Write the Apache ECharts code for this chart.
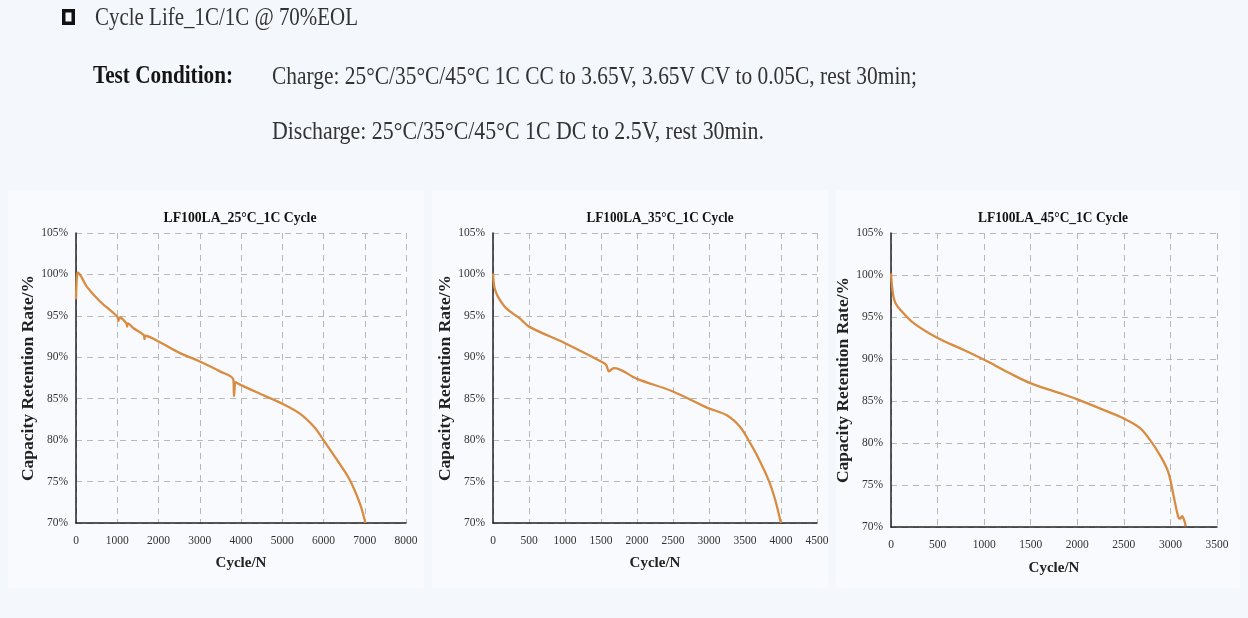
<!DOCTYPE html>
<html><head><meta charset="utf-8">
<script src="https://cdn.jsdelivr.net/npm/echarts@6/dist/echarts.min.js"></script>
<style>html,body{margin:0;padding:0;background:#f4f7fb}#c{width:1248px;height:618px}</style>
</head><body><div id="c"></div>
<script>
// ---- data ----
const heading = "Cycle Life_1C/1C @ 70%EOL";
const condLabel = "Test Condition:";
const chargeText = "Charge: 25°C/35°C/45°C 1C CC to 3.65V, 3.65V CV to 0.05C, rest 30min;";
const dischargeText = "Discharge: 25°C/35°C/45°C 1C DC to 2.5V, rest 30min.";
const chartTitles = ["LF100LA_25°C_1C Cycle", "LF100LA_35°C_1C Cycle", "LF100LA_45°C_1C Cycle"];
const yName = "Capacity Retention Rate/%";
const xName = "Cycle/N";

const cycles25 = [0, 20, 45, 120, 266, 590, 1000, 1030, 1060, 1220, 1240, 1260, 1395, 1640, 1660, 1680, 2000, 2524, 3000, 3492, 3815, 3830, 3845, 3860, 3975, 4460, 5000, 5427, 5790, 6000, 6315, 6637, 6879, 7016];
const rate25   = [97.0, 99.6, 100.2, 99.8, 98.5, 96.7, 94.9, 94.4, 94.8, 94.1, 93.7, 94.1, 93.5, 92.7, 92.2, 92.6, 91.9, 90.5, 89.5, 88.3, 87.3, 85.3, 86.2, 87.0, 86.7, 85.6, 84.4, 83.2, 81.5, 80.0, 77.7, 75.2, 72.4, 70.0];

const cycles35 = [0, 10, 23, 70, 186, 371, 500, 1000, 1500, 1570, 1610, 1640, 1680, 2000, 2490, 2978, 3247, 3433, 3548, 3664, 3826, 3919, 3998];
const rate35   = [100.1, 99.0, 98.3, 97.3, 95.9, 94.7, 93.7, 91.7, 89.5, 89.1, 88.3, 88.5, 88.7, 87.4, 85.9, 83.9, 83.0, 81.6, 80.0, 78.2, 75.2, 72.8, 70.0];

const cycles45 = [0, 10, 25, 50, 97, 240, 500, 776, 1001, 1276, 1502, 1848, 2002, 2313, 2503, 2671, 2778, 2885, 2975, 3029, 3082, 3105, 3125, 3145, 3164];
const rate45   = [100.2, 98.8, 97.5, 96.6, 95.9, 94.3, 92.5, 91.1, 89.9, 88.3, 87.1, 85.8, 85.2, 83.8, 82.9, 81.8, 80.4, 78.6, 76.6, 74.0, 71.3, 71.0, 71.3, 70.9, 70.1];

const xMax = [8000, 4500, 3500];
const xStep = [1000, 500, 500];
const yMin = 70, yMax = 105, yStep = 5;

// ---- layout ----
const grids = [
  {left: 76, top: 233, width: 330, height: 290},
  {left: 493, top: 233, width: 324, height: 290},
  {left: 891, top: 233, width: 326, height: 294}
];
const titleCenters = [240, 660, 1053];
const titleWidths = [153, 147, 150];
const xNameGap = [40, 40, 41];

const ctx = document.createElement('canvas').getContext('2d');
function fit(text, size, weight, w) {
  ctx.font = weight + ' ' + size + 'px "Liberation Serif"';
  return w / ctx.measureText(text).width;
}
function txt(text, x, y, size, weight, color, w) {
  return {
    type: 'text', x: x, y: y, scaleX: fit(text, size, weight, w), z: 10,
    style: {text: text, fontSize: size, fontWeight: weight, fontFamily: 'Liberation Serif',
      fill: color, align: 'left', verticalAlign: 'middle', textAlign: 'left', textVerticalAlign: 'middle'}
  };
}

const series = [[cycles25, rate25], [cycles35, rate35], [cycles45, rate45]];

const graphic = [
  {type: 'rect', shape: {x: 8, y: 190, width: 416, height: 398}, style: {fill: '#f8fafd'}, z: 0},
  {type: 'rect', shape: {x: 432, y: 190, width: 396, height: 398}, style: {fill: '#f8fafd'}, z: 0},
  {type: 'rect', shape: {x: 836, y: 190, width: 404, height: 398}, style: {fill: '#f8fafd'}, z: 0},
  {type: 'rect', shape: {x: 63.75, y: 10.75, width: 9.5, height: 12.5}, style: {fill: 'none', stroke: '#111', lineWidth: 3.5}, z: 10},
  txt(heading, 95, 18, 25, 'normal', '#333', 263),
  txt(condLabel, 93, 77, 25, 'bold', '#151515', 140),
  txt(chargeText, 272, 77, 25, 'normal', '#333', 645),
  txt(dischargeText, 272, 132, 25, 'normal', '#333', 492)
];
chartTitles.forEach((t, i) => {
  graphic.push(txt(t, titleCenters[i] - titleWidths[i] / 2, 218, 15, 'bold', '#111', titleWidths[i]));
});

const option = {
  backgroundColor: '#f4f7fb',
  animation: false,
  graphic: graphic,
  grid: grids.map(g => Object.assign({show: true, backgroundColor: '#f9fbfe', borderColor: '#222', borderWidth: 1.5, containLabel: false}, g)),
  xAxis: grids.map((g, i) => ({
    gridIndex: i, type: 'value', min: 0, max: xMax[i], interval: xStep[i],
    name: xName, nameLocation: 'middle', nameGap: xNameGap[i],
    nameTextStyle: {fontFamily: 'Liberation Serif', fontWeight: 'bold', fontSize: 15, color: '#222', verticalAlign: 'middle'},
    axisLine: {show: true, onZero: false, lineStyle: {color: '#222', width: 1.5}},
    axisTick: {show: false},
    axisLabel: {fontFamily: 'Liberation Serif', fontSize: 11.5, color: '#333', margin: 12, formatter: v => String(v)},
    splitLine: {show: true, lineStyle: {color: '#b8b8b8', type: [6, 5], width: 1}}
  })),
  yAxis: grids.map((g, i) => ({
    gridIndex: i, type: 'value', min: yMin, max: yMax, interval: yStep,
    name: yName, nameLocation: 'middle', nameGap: 46,
    nameTextStyle: {fontFamily: 'Liberation Serif', fontWeight: 'bold', fontSize: 17.5, color: '#222', verticalAlign: 'middle'},
    axisLine: {show: true, lineStyle: {color: '#222', width: 1.5}},
    axisTick: {show: false},
    axisLabel: {fontFamily: 'Liberation Serif', fontSize: 11.5, color: '#333', margin: 8, formatter: '{value}%'},
    splitLine: {show: true, lineStyle: {color: '#b8b8b8', type: [6, 5], width: 1}}
  })),
  series: series.map((s, i) => ({
    type: 'line', xAxisIndex: i, yAxisIndex: i, showSymbol: false, smooth: 0.35,
    data: s[0].map((c, k) => [c, s[1][k]]),
    lineStyle: {color: '#d98b3f', width: 2.3},
    itemStyle: {color: '#d98b3f'}
  }))
};
const chart = echarts.init(document.getElementById('c'), null, {renderer: 'canvas'});
chart.setOption(option);
</script>
</body></html>
